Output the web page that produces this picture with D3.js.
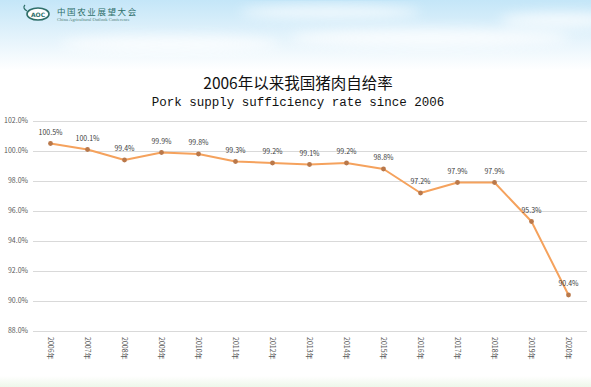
<!DOCTYPE html>
<html lang="zh">
<head>
<meta charset="UTF-8">
<title>2006年以来我国猪肉自给率</title>
<style>
    body { margin: 0; background: #fff; }
    svg { display: block; }
    .grid line { stroke: #d9d9d9; stroke-width: 1; }
    .tick-label { font-family: 'Noto Sans CJK SC', 'DejaVu Sans', sans-serif; font-size: 7px; fill: #595959; }
    .val-label { font-family: 'Noto Sans CJK SC', 'DejaVu Sans', sans-serif; font-size: 7px; fill: #404040; }
</style>
<script src="https://d3js.org/d3.v7.min.js"></script>
</head>
<body>
<div id="chart"></div>
<script>
    const years = ["2006年", "2007年", "2008年", "2009年", "2010年", "2011年", "2012年", "2013年",
        "2014年", "2015年", "2016年", "2017年", "2018年", "2019年", "2020年"];
    const rates = [100.5, 100.1, 99.4, 99.9, 99.8, 99.3, 99.2, 99.1, 99.2, 98.8, 97.2, 97.9, 97.9, 95.3, 90.4];
    const yTicks = [88, 90, 92, 94, 96, 98, 100, 102];

    const width = 591, height = 387;

    const svg = d3.select("#chart").append("svg")
        .attr("width", width)
        .attr("height", height);

    // background: sky at the top, faint green at the bottom
    const defs = svg.append("defs");
    const sky = defs.append("linearGradient").attr("id", "sky").attr("x1", 0).attr("y1", 0).attr("x2", 0).attr("y2", 1);
    sky.append("stop").attr("offset", "0%").attr("stop-color", "#c4e6f8");
    sky.append("stop").attr("offset", "45%").attr("stop-color", "#dff1fb");
    sky.append("stop").attr("offset", "100%").attr("stop-color", "#ffffff");
    const grass = defs.append("linearGradient").attr("id", "grass").attr("x1", 0).attr("y1", 0).attr("x2", 0).attr("y2", 1);
    grass.append("stop").attr("offset", "0%").attr("stop-color", "#ffffff");
    grass.append("stop").attr("offset", "100%").attr("stop-color", "#eef7ea");
    defs.append("filter").attr("id", "blur").append("feGaussianBlur").attr("stdDeviation", 6);

    svg.append("rect").attr("width", width).attr("height", height).attr("fill", "#fff");
    svg.append("rect").attr("width", width).attr("height", 70).attr("fill", "url(#sky)");
    svg.append("rect").attr("y", 376).attr("width", width).attr("height", 11).attr("fill", "url(#grass)");

    const clouds = svg.append("g").attr("filter", "url(#blur)").attr("fill", "#fff").attr("opacity", 0.75);
    clouds.append("ellipse").attr("cx", 330).attr("cy", 12).attr("rx", 90).attr("ry", 6);
    clouds.append("ellipse").attr("cx", 430).attr("cy", 38).attr("rx", 140).attr("ry", 9);
    clouds.append("ellipse").attr("cx", 170).attr("cy", 44).attr("rx", 110).attr("ry", 8);
    clouds.append("ellipse").attr("cx", 560).attr("cy", 20).attr("rx", 60).attr("ry", 7);

    // logo
    const logo = svg.append("g");
    logo.append("ellipse").attr("cx", 38).attr("cy", 14).attr("rx", 11).attr("ry", 6)
        .attr("fill", "#fff").attr("stroke", "#2f6f6a").attr("stroke-width", 1.6);
    logo.append("text").attr("x", 38).attr("y", 16.5).attr("text-anchor", "middle")
        .attr("font-family", "DejaVu Sans").attr("font-size", 6).attr("font-weight", "bold")
        .attr("fill", "#2f6f6a").text("AOC");
    logo.append("path").attr("d", "M27,11 Q22,8 25,5").attr("fill", "none").attr("stroke", "#2f6f6a").attr("stroke-width", 1.2);
    logo.append("text").attr("x", 57).attr("y", 15)
        .attr("font-family", "'Noto Sans CJK SC', sans-serif").attr("font-size", 8.5)
        .attr("letter-spacing", 1.6).attr("fill", "#2f6f6a").text("中国农业展望大会");
    logo.append("text").attr("x", 57).attr("y", 21)
        .attr("font-family", "'Liberation Serif', serif").attr("font-size", 4.6)
        .attr("fill", "#4d7d78").text("China Agricultural Outlook Conference");

    // titles
    svg.append("text").attr("x", 298).attr("y", 89).attr("text-anchor", "middle")
        .attr("font-family", "'Noto Sans CJK SC', sans-serif").attr("font-size", 15.5)
        .attr("fill", "#111").text("2006年以来我国猪肉自给率");
    svg.append("text").attr("x", 298).attr("y", 106).attr("text-anchor", "middle")
        .attr("font-family", "'Liberation Mono', 'DejaVu Sans Mono', monospace").attr("font-size", 12.5)
        .attr("fill", "#111").text("Pork supply sufficiency rate since 2006");

    // scales
    const x = d3.scaleBand().domain(years).range([32, 587]);
    const y = d3.scaleLinear().domain([88, 102]).range([331, 121]);
    const cx = d => x(d) + x.bandwidth() / 2;

    // grid
    svg.append("g").attr("class", "grid")
        .selectAll("line").data(yTicks).join("line")
        .attr("x1", 33).attr("x2", 587)
        .attr("y1", d => Math.round(y(d)) + 0.5).attr("y2", d => Math.round(y(d)) + 0.5);

    svg.append("g").selectAll("text").data(yTicks).join("text")
        .attr("class", "tick-label")
        .attr("x", 28).attr("y", d => y(d)).attr("dy", "0.35em")
        .attr("text-anchor", "end")
        .text(d => d.toFixed(1) + "%");

    // x labels, rotated
    svg.append("g").selectAll("text").data(years).join("text")
        .attr("class", "tick-label")
        .attr("transform", d => `translate(${cx(d)},337) rotate(90)`)
        .attr("dy", "0.35em")
        .text(d => d);

    // line
    const line = d3.line().x((d, i) => cx(years[i])).y(d => y(d));
    svg.append("path").datum(rates)
        .attr("d", line)
        .attr("fill", "none")
        .attr("stroke", "#f5a25d")
        .attr("stroke-width", 2)
        .attr("stroke-linejoin", "round");

    svg.append("g").selectAll("circle").data(rates).join("circle")
        .attr("cx", (d, i) => cx(years[i]))
        .attr("cy", d => y(d))
        .attr("r", 2.4)
        .attr("fill", "#b9784a");

    svg.append("g").selectAll("text").data(rates).join("text")
        .attr("class", "val-label")
        .attr("x", (d, i) => cx(years[i]))
        .attr("y", d => y(d) - 9)
        .attr("text-anchor", "middle")
        .text(d => d.toFixed(1) + "%");
</script>
</body>
</html>
